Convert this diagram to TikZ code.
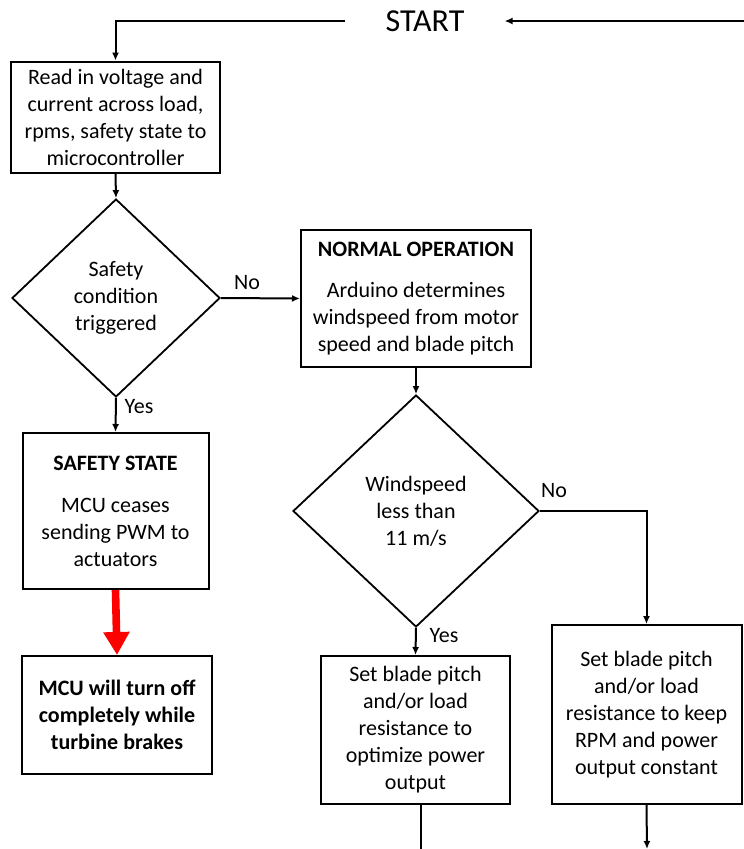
\documentclass[tikz,border=0pt]{standalone}
\usepackage{fontspec}
\setmainfont{Carlito}
\usepackage{xcolor}
\usetikzlibrary{shapes.geometric,arrows.meta}
\definecolor{LineBlack}{RGB}{0, 0, 0}
\definecolor{AlertRed}{RGB}{255, 0, 0}
\tikzset{
  FlowBox/.style={draw=LineBlack, line width=2pt, align=center, font=\fontsize{22}{27}\selectfont},
  FlowDiamond/.style={draw=LineBlack, diamond, line width=1.8pt, align=center, inner sep=0pt, font=\fontsize{22}{27}\selectfont},
  FlowArrow/.style={draw=LineBlack, line width=2pt, -{Latex[length=8pt,width=7pt]}},
  FlowLine/.style={draw=LineBlack, line width=2pt},
  FlowLabel/.style={font=\fontsize{22}{27}\selectfont}
}

\begin{document}
\begin{tikzpicture}[x=1pt,y=-1pt]
  %Flowchart 6 boxes, 2 decisions
  \useasboundingbox (0,0) rectangle (744,849);
  \node[font=\fontsize{32}{36}\selectfont, inner xsep=40pt] (start) at (425,21) {START};
  \coordinate (loop) at (744,21);
  \node[FlowBox, minimum width=209pt, minimum height=111pt] (read) at (115.5,117) {Read in voltage and\\current across load,\\rpms, safety state to\\microcontroller};
  \node[FlowDiamond, minimum width=208pt, minimum height=198pt] (safe) at (116,298) {Safety\\condition\\triggered};
  \node[FlowBox, minimum width=230pt, minimum height=137pt] (normal) at (416,298.5) {\textbf{NORMAL OPERATION}\\[14pt]Arduino determines\\windspeed from motor\\speed and blade pitch};
  \node[FlowDiamond, minimum width=246pt, minimum height=232pt] (wind) at (416,511) {Windspeed\\less than\\11 m/s};
  \node[FlowBox, minimum width=186pt, minimum height=156pt] (safestate) at (115.5,511) {\textbf{SAFETY STATE}\\[15pt]MCU ceases\\sending PWM to\\actuators};
  \node[FlowBox, minimum width=190pt, minimum height=118pt, font=\fontsize{22}{27}\selectfont\bfseries] (off) at (117,715) {MCU will turn off\\completely while\\turbine brakes};
  \node[FlowBox, minimum width=189pt, minimum height=148pt] (optimize) at (415.5,730) {Set blade pitch\\and/or load\\resistance to\\optimize power\\output};
  \node[FlowBox, minimum width=190pt, minimum height=179pt] (constant) at (646.5,714.5) {Set blade pitch\\and/or load\\resistance to keep\\RPM and power\\output constant};
  \coordinate (out1) at (421,849);
  \coordinate (out2) at (647,849);
  \node[FlowLabel] (no1) at (247,283) {No};
  \node[FlowLabel] (yes1) at (139,407) {Yes};
  \node[FlowLabel] (no2) at (554,491) {No};
  \node[FlowLabel] (yes2) at (444,636) {Yes};
  \draw[FlowArrow] (start.west) -| (read.north);
  \draw[FlowArrow] (loop) -- (start.east);
  \draw[FlowArrow] (read.south) -- (safe.north);
  \draw[FlowArrow] (safe.east) -- (normal.west);
  \draw[FlowArrow] (safe.south) -- (safestate.north);
  \draw[line width=7.6pt, draw=AlertRed, -{Triangle[length=23pt,width=25pt]}] (safestate.south) -- (off.north);
  \draw[FlowArrow] (normal.south) -- (wind.north);
  \draw[FlowArrow] (wind.south) -- (optimize.north);
  \draw[FlowArrow] (wind.east) -| (constant.north);
  \draw[FlowLine] (optimize.south -| out1) -- (out1);
  \draw[FlowArrow] (constant.south) -- (out2);
\end{tikzpicture}
\end{document}
